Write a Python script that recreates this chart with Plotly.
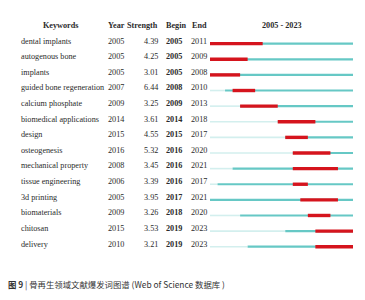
import plotly.graph_objects as go

keywords = ["dental implants", "autogenous bone", "implants", "guided bone regeneration",
            "calcium phosphate", "biomedical applications", "design", "osteogenesis",
            "mechanical property", "tissue engineering", "3d printing", "biomaterials",
            "chitosan", "delivery"]
years = [2005, 2005, 2005, 2007, 2009, 2014, 2015, 2016, 2008, 2006, 2005, 2009, 2015, 2010]
strengths = [4.39, 4.25, 3.01, 6.44, 3.25, 3.61, 4.55, 5.32, 3.45, 3.39, 3.95, 3.26, 3.53, 3.21]
begins = [2005, 2005, 2005, 2008, 2009, 2014, 2015, 2016, 2016, 2016, 2017, 2018, 2019, 2019]
ends = [2011, 2009, 2008, 2010, 2013, 2018, 2017, 2020, 2021, 2017, 2021, 2020, 2023, 2023]
span_start, span_end = 2005, 2023
caption = "图 9 | 骨再生领域文献爆发词图谱 (Web of Science 数据库 )"

W, H = 365, 300
row0_px, row_step = 41.0, 15.62
y_top = -row0_px / row_step
y_bot = (H - row0_px) / row_step
off = 0.17

light_x, light_y, teal_x, teal_y, red_x, red_y = [], [], [], [], [], []
for i, (yr, b, e) in enumerate(zip(years, begins, ends)):
    r = i + off
    if yr > span_start:
        light_x += [span_start, yr, None]; light_y += [r, r, None]
    teal_x += [yr, span_end + 1, None]; teal_y += [r, r, None]
    red_x += [b, e + 1, None]; red_y += [r, r, None]

fig = go.Figure()
fig.add_trace(go.Scatter(x=light_x, y=light_y, mode="lines", xaxis="x2", yaxis="y",
                         line=dict(color="#d3efee", width=1.6), hoverinfo="skip"))
fig.add_trace(go.Scatter(x=teal_x, y=teal_y, mode="lines", xaxis="x2", yaxis="y",
                         line=dict(color="#66c8c5", width=2.2), hoverinfo="skip"))
fig.add_trace(go.Scatter(x=red_x, y=red_y, mode="lines", xaxis="x2", yaxis="y",
                         line=dict(color="#d5141d", width=3.4), hoverinfo="skip"))

serif = "Liberation Serif, Times New Roman, serif"
tc = "#2b2b2b"
ann = []
def add(text, xpx, row, anchor="left", bold=False, size=8.2):
    ann.append(dict(text=f"<b>{text}</b>" if bold else text, x=xpx / W, xref="paper",
                    y=row, yref="y", xanchor=anchor, yanchor="middle", showarrow=False,
                    font=dict(family=serif, size=size, color=tc)))

hdr = -1.02
add("Keywords", 60, hdr, "center", True)
add("Year", 106, hdr, "left", True)
add("Strength", 159.5, hdr, "right", True)
add("Begin", 163.5, hdr, "left", True)
add("End", 189.5, hdr, "left", True)
add(f"{span_start} - {span_end}", 282, hdr, "center", True)
for i in range(len(keywords)):
    add(keywords[i], 19, i, "left")
    add(str(years[i]), 106, i, "left")
    add(f"{strengths[i]:.2f}", 159.5, i, "right")
    add(str(begins[i]), 163.5, i, "left", True)
    add(str(ends[i]), 189, i, "left")

ann.append(dict(text=caption.replace("图 9", "<b>图 9</b>", 1), x=6 / W, xref="paper",
                y=1 - 284 / H, yref="paper", xanchor="left", yanchor="middle", showarrow=False,
                font=dict(family="Noto Sans CJK SC, Noto Sans, sans-serif", size=8.4, color="#333333")))

fig.update_layout(
    width=W, height=H, margin=dict(l=0, r=0, t=0, b=0),
    paper_bgcolor="white", plot_bgcolor="white", showlegend=False,
    xaxis=dict(visible=False, range=[0, 1], domain=[0, 1]),
    xaxis2=dict(visible=False, range=[span_start, span_end + 1],
                domain=[210 / W, 353 / W], anchor="y"),
    yaxis=dict(visible=False, range=[y_bot, y_top], domain=[0, 1]),
    annotations=ann,
)
fig.write_html("out.html", config={"displayModeBar": False},
               post_script="document.body.style.margin='0px';document.body.style.overflow='hidden';")
